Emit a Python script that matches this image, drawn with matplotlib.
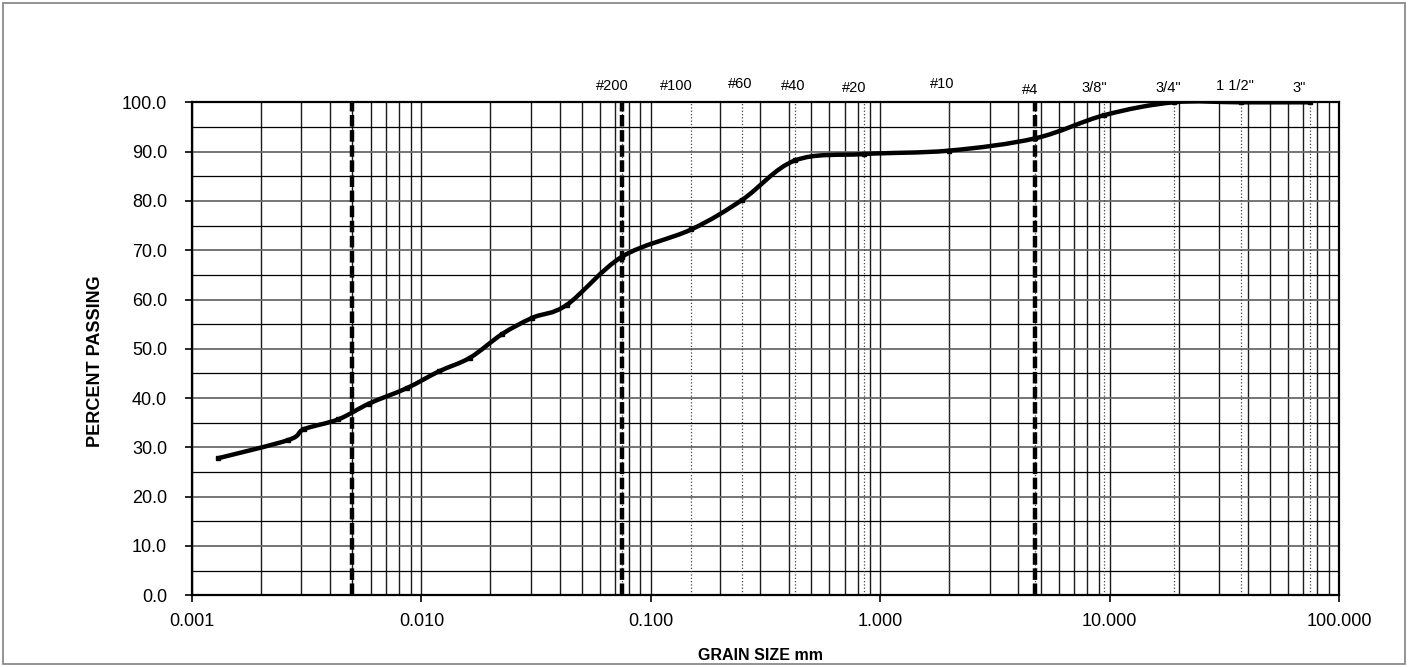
import numpy as np
import matplotlib
matplotlib.use("Agg")
import matplotlib.pyplot as plt
from matplotlib.path import Path
from matplotlib.patches import PathPatch, Rectangle
from matplotlib.ticker import FixedLocator, LogLocator, NullFormatter

plt.rcParams['font.family'] = ['Liberation Sans', 'DejaVu Sans']

# gradation data (grain size mm, percent passing)
grain_size = [0.0013, 0.00263, 0.00308, 0.00435, 0.00592, 0.00862, 0.0119,
              0.0163, 0.0225, 0.0305, 0.043, 0.075, 0.15, 0.25, 0.425,
              0.85, 2.0, 4.75, 9.5, 19.0, 37.5, 75.0]
passing = [27.8, 31.5, 33.7, 35.7, 38.9, 42.0, 45.4,
           48.2, 53.0, 56.3, 58.9, 68.7, 74.2, 80.2, 88.2,
           89.5, 90.2, 92.7, 97.4, 100.0, 100.0, 100.0]

# sieves shown on top of the chart
sieve_sizes = [0.075, 0.15, 0.25, 0.425, 0.85, 2.0, 4.75, 9.5, 19.0, 37.5, 75.0]
sieve_names = ['#200', '#100', '#60', '#40', '#20', '#10', '#4',
               '3/8"', '3/4"', '1 1/2"', '3"']
# label placement (pixels) relative to the sieve line / top of the plot
label_dx = [-10, -15, -2, -2, -10, -7, -5, -10, -5, -6, -11]
label_dy = [16, 16, 18, 16, 14, 18, 12, 14, 14, 16, 14]

# boundary lines (clay/silt, silt/sand, sand/gravel)
bounds = [0.005, 0.075, 4.75]

fig = plt.figure(figsize=(14.08, 6.67), dpi=100)
fig.patches.append(Rectangle((3 / 1408, 3 / 667), 1 - 6 / 1408, 1 - 6 / 667,
                             transform=fig.transFigure, fill=False,
                             edgecolor='#808080', lw=1.2))
ax = fig.add_axes([192 / 1408, (667 - 595.3) / 667, 1147 / 1408, 493 / 667])
ax.set_xscale('log')
ax.set_xlim(0.001, 100)
ax.set_ylim(0, 100)

ax.xaxis.set_major_locator(FixedLocator([0.001, 0.01, 0.1, 1, 10, 100]))
ax.xaxis.set_minor_locator(LogLocator(base=10, subs=np.arange(2, 10)))
ax.xaxis.set_minor_formatter(NullFormatter())
ax.set_xticklabels(['0.001', '0.010', '0.100', '1.000', '10.000', '100.000'])
ax.set_yticks(np.arange(0, 101, 10))
ax.set_yticks(np.arange(5, 100, 10), minor=True)
ax.set_yticklabels([f'{v:.1f}' for v in np.arange(0, 101, 10)])
ax.tick_params(axis='both', which='major', labelsize=13, length=5, width=1.2)
ax.tick_params(axis='y', which='major', pad=13)
ax.tick_params(axis='x', which='major', pad=8)
ax.tick_params(which='minor', length=0)

ax.grid(axis='y', which='major', color='#6a6a6a', lw=1.3)
ax.grid(axis='y', which='minor', color='#000000', lw=0.9)
ax.grid(axis='x', which='both', color='#1a1a1a', lw=1.0)
ax.set_axisbelow(True)
for s in ax.spines.values():
    s.set_linewidth(1.6)
    s.set_color('black')

for s in sieve_sizes:
    ax.axvline(s, color='#444444', lw=0.9, ls=':', zorder=1)
for b in bounds:
    ax.axvline(b, color='black', lw=3.2, dashes=(2.6, 0.8), zorder=2)

# smoothed curve (Catmull-Rom as Bezier segments, like Excel smoothed lines)
lx = np.log10(grain_size)
py = np.array(passing)
pts = np.column_stack([lx, py])
ext = np.vstack([pts[0], pts, pts[-1]])
verts = [pts[0]]
codes = [Path.MOVETO]
for i in range(len(pts) - 1):
    p0, p1, p2, p3 = ext[i], ext[i + 1], ext[i + 2], ext[i + 3]
    verts += [p1 + (p2 - p0) / 6, p2 - (p3 - p1) / 6, p2]
    codes += [Path.CURVE4] * 3
verts = np.array(verts)
verts[:, 0] = 10 ** verts[:, 0]
ax.add_patch(PathPatch(Path(verts, codes), fill=False, edgecolor='black',
                       lw=3.2, zorder=5, capstyle='butt', clip_on=True))
ax.plot(grain_size, passing, 's', color='black', ms=3, zorder=6)

for s, name, dx, dy in zip(sieve_sizes, sieve_names, label_dx, label_dy):
    ax.annotate(name, xy=(s, 100), xytext=(dx, dy), textcoords='offset pixels',
                ha='center', va='center', fontsize=10.5, annotation_clip=False)

fig.text(95 / 1408, 1 - 361 / 667, 'PERCENT PASSING', rotation=90,
         ha='center', va='center', fontsize=13, fontweight='bold')
fig.text(761 / 1408, 1 - 655 / 667, 'GRAIN SIZE mm',
         ha='center', va='center', fontsize=11.5, fontweight='bold')

fig.savefig('out.png', dpi=100)
